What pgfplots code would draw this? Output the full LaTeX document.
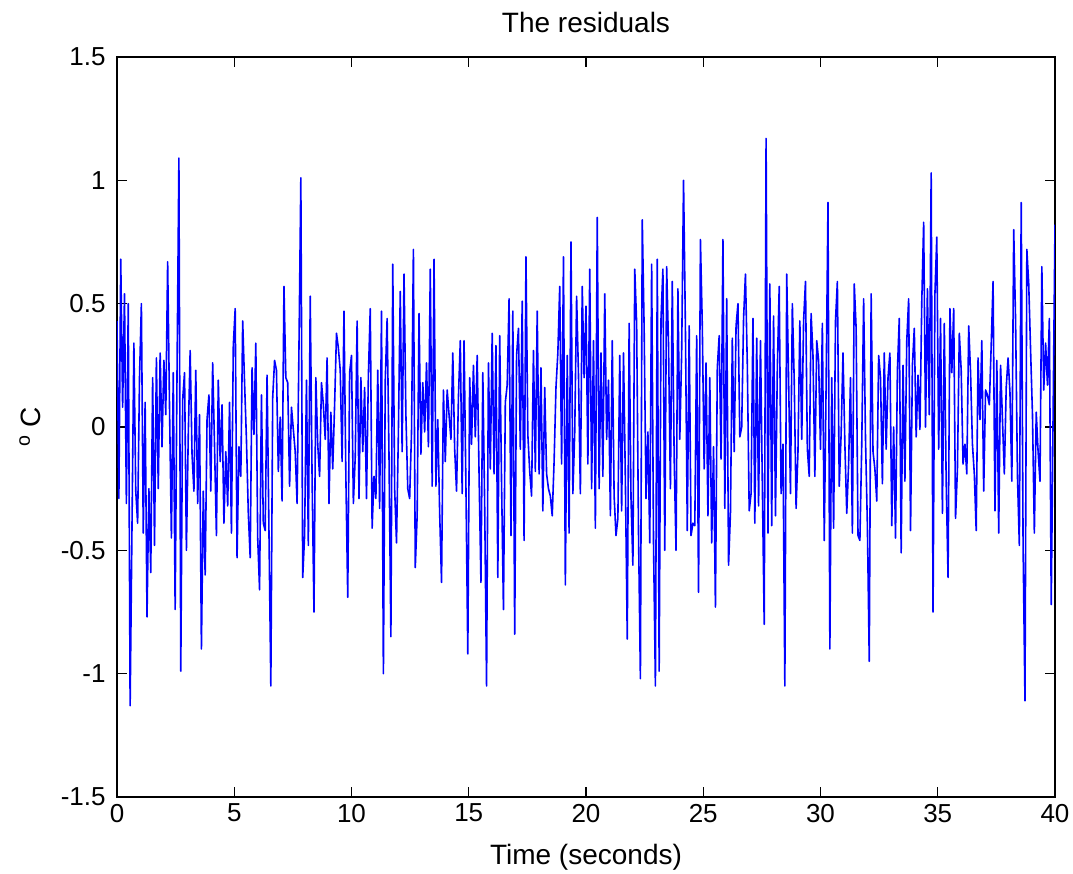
\documentclass[border=0pt]{standalone}
\usepackage{fontspec}
\setmainfont{Liberation Sans}
\usepackage{pgfplots}
\usepackage{pgfplotstable}
\pgfplotsset{compat=1.18}
% s = sample index (one sample = 0.08 s, 500 samples = 40 s), v = residual in deg C
\pgfplotstableread{
s v
0 0.43
1 -0.29
2 0.68
3 0.08
4 0.54
5 -0.31
6 0.5
7 -1.13
8 -0.4
9 0.34
10 -0.26
11 -0.39
12 0.2
13 0.5
14 -0.43
15 0.1
16 -0.77
17 -0.25
18 -0.59
19 0.2
20 -0.48
21 0.28
22 -0.25
23 0.3
24 -0.08
25 0.27
26 0.05
27 0.67
28 0.08
29 -0.45
30 0.22
31 -0.74
32 0.22
33 1.09
34 -0.99
35 0.11
36 0.22
37 -0.5
38 -0.03
39 0.31
40 -0.11
41 -0.26
42 0.23
43 -0.31
44 0.05
45 -0.9
46 -0.26
47 -0.6
48 0.03
49 0.13
50 -0.26
51 0.26
52 -0.08
53 -0.44
54 0.19
55 -0.14
56 0.09
57 -0.39
58 -0.1
59 -0.32
60 0.1
61 -0.43
62 0.33
63 0.48
64 -0.53
65 -0.08
66 -0.2
67 0.43
68 0.18
69 -0.05
70 -0.35
71 -0.53
72 0.24
73 -0.03
74 0.34
75 -0.45
76 -0.66
77 0.13
78 -0.39
79 -0.42
80 0.21
81 -0.42
82 -1.05
83 0.12
84 0.27
85 0.23
86 -0.18
87 0.04
88 -0.30
89 0.57
90 0.2
91 0.18
92 -0.24
93 0.08
94 -0.01
95 -0.1
96 -0.31
97 0.32
98 1.01
99 -0.61
100 -0.44
101 0.19
102 -0.48
103 0.53
104 -0.21
105 -0.75
106 0.2
107 -0.07
108 -0.2
109 0.18
110 0.09
111 -0.05
112 0.28
113 -0.31
114 0.06
115 -0.17
116 0.09
117 0.38
118 0.32
119 0.23
120 -0.14
121 0.47
122 -0.2
123 -0.69
124 0.22
125 0.29
126 -0.31
127 -0.12
128 0.43
129 -0.29
130 0.2
131 -0.1
132 0.16
133 -0.29
134 0.21
135 0.48
136 -0.41
137 -0.2
138 -0.29
139 0.23
140 -0.33
141 0.47
142 -1.0
143 0.19
144 0.44
145 -0.12
146 -0.85
147 0.66
148 -0.25
149 -0.47
150 -0.02
151 0.55
152 -0.1
153 0.62
154 0.05
155 -0.25
156 -0.29
157 -0.02
158 0.72
159 -0.57
160 -0.36
161 0.46
162 -0.11
163 0.18
164 -0.02
165 0.26
166 -0.08
167 0.64
168 -0.24
169 0.68
170 -0.24
171 0.03
172 -0.35
173 -0.63
174 0.15
175 -0.14
176 0.15
177 0.05
178 -0.05
179 0.3
180 -0.09
181 -0.26
182 0.12
183 0.35
184 -0.27
185 0.35
186 -0.24
187 -0.92
188 0.2
189 -0.07
190 0.25
191 -0.04
192 0.29
193 -0.19
194 -0.63
195 0.22
196 -0.32
197 -1.05
198 0.26
199 -0.17
200 0.38
201 -0.19
202 0.33
203 -0.61
204 0.37
205 -0.23
206 -0.74
207 0.1
208 0.17
209 0.52
210 -0.44
211 0.47
212 -0.84
213 0.29
214 0.4
215 -0.09
216 0.51
217 -0.46
218 0.69
219 -0.03
220 -0.18
221 -0.28
222 0.31
223 -0.18
224 0.47
225 -0.19
226 0.24
227 -0.34
228 0.16
229 -0.19
230 -0.25
231 -0.28
232 -0.36
233 -0.14
234 0.16
235 0.3
236 0.57
237 -0.15
238 0.69
239 -0.64
240 0.29
241 -0.43
242 0.75
243 -0.27
244 -0.02
245 0.53
246 0.21
247 -0.27
248 0.57
249 0.2
250 0.49
251 -0.15
252 0.64
253 -0.25
254 0.35
255 -0.41
256 0.85
257 -0.25
258 0.3
259 -0.2
260 0.54
261 -0.05
262 0.19
263 -0.36
264 0.35
265 -0.28
266 -0.44
267 -0.37
268 0.29
269 -0.34
270 0.3
271 -0.22
272 -0.86
273 0.42
274 -0.29
275 -0.56
276 0.64
277 0.42
278 -0.43
279 -1.02
280 0.84
281 0.4
282 -0.29
283 -0.02
284 -0.47
285 0.66
286 -0.47
287 -1.05
288 0.68
289 -0.99
290 0.44
291 0.64
292 -0.5
293 0.65
294 0.33
295 -0.25
296 0.59
297 -0.12
298 -0.5
299 0.56
300 -0.05
301 0.3
302 1.0
303 0.4
304 -0.42
305 0.41
306 -0.44
307 -0.39
308 -0.4
309 0.37
310 -0.67
311 0.76
312 0.41
313 -0.17
314 0.26
315 -0.36
316 0.2
317 -0.47
318 -0.08
319 -0.73
320 0.24
321 0.37
322 -0.13
323 0.76
324 -0.33
325 0.52
326 -0.56
327 -0.35
328 0.36
329 -0.1
330 0.41
331 0.5
332 -0.04
333 0.0
334 0.44
335 0.62
336 0.25
337 -0.34
338 -0.27
339 0.44
340 -0.39
341 0.36
342 -0.32
343 0.35
344 -0.23
345 -0.8
346 1.17
347 -0.43
348 0.58
349 -0.4
350 0.45
351 -0.36
352 0.24
353 0.57
354 -0.27
355 -0.07
356 -1.05
357 0.62
358 0.19
359 -0.27
360 0.5
361 0.19
362 -0.33
363 -0.1
364 0.43
365 -0.05
366 0.43
367 0.59
368 -0.09
369 -0.2
370 0.46
371 0.29
372 -0.2
373 0.35
374 0.27
375 -0.09
376 0.42
377 -0.46
378 0.17
379 0.91
380 -0.9
381 0.2
382 -0.41
383 0.43
384 0.59
385 -0.24
386 -0.03
387 0.3
388 -0.07
389 -0.35
390 -0.15
391 0.2
392 -0.43
393 0.58
394 0.4
395 -0.44
396 -0.46
397 -0.07
398 0.52
399 -0.05
400 -0.4
401 -0.95
402 0.54
403 -0.1
404 -0.17
405 -0.3
406 0.29
407 0.2
408 -0.23
409 0.3
410 -0.09
411 0.2
412 0.3
413 -0.4
414 0.0
415 -0.45
416 0.23
417 0.44
418 -0.51
419 0.25
420 -0.22
421 0.35
422 0.52
423 -0.42
424 0.25
425 0.4
426 -0.04
427 0.21
428 -0.01
429 0.51
430 0.83
431 0.0
432 0.56
433 0.05
434 1.03
435 -0.75
436 0.54
437 0.77
438 -0.09
439 0.44
440 -0.35
441 0.42
442 -0.22
443 -0.61
444 0.48
445 0.22
446 0.48
447 -0.37
448 -0.17
449 0.38
450 0.23
451 -0.15
452 -0.07
453 -0.19
454 0.41
455 0.22
456 -0.07
457 -0.19
458 -0.42
459 0.28
460 0.03
461 0.35
462 -0.26
463 0.15
464 0.13
465 0.09
466 0.33
467 0.59
468 -0.34
469 0.27
470 -0.43
471 0.25
472 0.03
473 -0.19
474 0.16
475 0.28
476 0.14
477 -0.22
478 0.8
479 0.43
480 -0.2
481 -0.48
482 0.91
483 -0.48
484 -1.11
485 0.72
486 0.58
487 0.31
488 0.05
489 -0.43
490 0.06
491 -0.1
492 -0.22
493 0.65
494 0.15
495 0.34
496 0.17
497 0.44
498 -0.72
499 0.05
500 0.82
}\resid

\begin{document}
\begin{tikzpicture}
\useasboundingbox (-58.5pt,-38.5pt) rectangle (478pt,398.5pt);
\begin{axis}[
  at={(0pt,0pt)}, anchor=south west,
  width=469pt, height=370pt, scale only axis,
  xmin=0, xmax=500, ymin=-1.5, ymax=1.5,
  xtick={0,62.5,125,187.5,250,312.5,375,437.5,500},
  xticklabels={0,5,10,15,20,25,30,35,40},
  ytick={-1.5,-1,-0.5,0,0.5,1,1.5},
  yticklabels={-1.5,-1,-0.5,0,0.5,1,1.5},
  tick align=inside, major tick length=5pt,
  axis line style={black, line width=0.6pt},
  tick style={black, line width=0.6pt},
  every tick label/.append style={font=\fontsize{13}{15}\selectfont},
  yticklabel style={inner xsep=0pt, xshift=-5.5pt},
  label style={font=\fontsize{14}{16}\selectfont},
  title style={font=\fontsize{14}{16}\selectfont, at={(axis description cs:0.5,1)}, anchor=center, yshift=11.5pt},
  title={The residuals},
  xlabel={Time (seconds)},
  xlabel style={at={(axis description cs:0.5,0)}, anchor=center, yshift=-30pt},
  ylabel={\textsuperscript{o} C},
  ylabel style={at={(axis description cs:-0.0927,0.5)}, anchor=center},
]
\addplot[blue, line width=0.8pt, line join=round] table[x=s, y=v] {\resid};
\end{axis}
\end{tikzpicture}
\end{document}
